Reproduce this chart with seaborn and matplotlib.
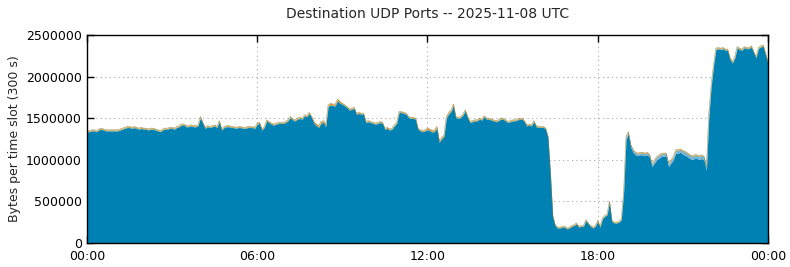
import numpy as np
import pandas as pd
import matplotlib
matplotlib.use("Agg")
import matplotlib.pyplot as plt
import seaborn as sns

# Total bytes per 300 s slot (millions), 00:00 .. 24:00
total_m = [
    # 00h
    1.35, 1.35, 1.36, 1.36, 1.35, 1.37, 1.38, 1.37, 1.36, 1.36, 1.36, 1.36,
    # 01h
    1.36, 1.36, 1.37, 1.38, 1.39, 1.40, 1.40, 1.39, 1.40, 1.39, 1.38, 1.39,
    # 02h
    1.38, 1.38, 1.37, 1.38, 1.38, 1.37, 1.36, 1.35, 1.37, 1.38, 1.38, 1.39,
    # 03h
    1.39, 1.38, 1.40, 1.41, 1.43, 1.43, 1.41, 1.41, 1.42, 1.41, 1.41, 1.42,
    # 04h
    1.52, 1.45, 1.39, 1.41, 1.40, 1.41, 1.42, 1.40, 1.47, 1.37, 1.40, 1.41,
    # 05h
    1.41, 1.40, 1.40, 1.39, 1.40, 1.40, 1.39, 1.39, 1.40, 1.40, 1.40, 1.39,
    # 06h
    1.44, 1.45, 1.37, 1.40, 1.48, 1.46, 1.44, 1.43, 1.44, 1.45, 1.45, 1.45,
    # 07h
    1.46, 1.48, 1.52, 1.49, 1.48, 1.50, 1.51, 1.50, 1.54, 1.53, 1.57, 1.52,
    # 08h
    1.46, 1.43, 1.41, 1.46, 1.47, 1.42, 1.66, 1.68, 1.67, 1.67, 1.73, 1.70,
    # 09h
    1.68, 1.66, 1.64, 1.61, 1.62, 1.63, 1.56, 1.57, 1.56, 1.56, 1.46, 1.47,
    # 10h
    1.46, 1.45, 1.44, 1.45, 1.46, 1.45, 1.38, 1.39, 1.37, 1.38, 1.42, 1.45,
    # 11h
    1.58, 1.58, 1.57, 1.56, 1.52, 1.51, 1.51, 1.50, 1.38, 1.36, 1.35, 1.36,
    # 12h
    1.38, 1.37, 1.35, 1.36, 1.40, 1.23, 1.27, 1.30, 1.52, 1.57, 1.60, 1.67,
    # 13h
    1.52, 1.51, 1.52, 1.55, 1.60, 1.52, 1.46, 1.47, 1.48, 1.48, 1.50, 1.49,
    # 14h
    1.53, 1.50, 1.50, 1.49, 1.48, 1.47, 1.48, 1.50, 1.50, 1.48, 1.46, 1.47,
    # 15h
    1.48, 1.48, 1.49, 1.50, 1.50, 1.47, 1.42, 1.43, 1.42, 1.47, 1.41, 1.40,
    # 16h
    1.40, 1.40, 1.38, 1.28, 0.85, 0.33, 0.22, 0.19, 0.19, 0.20, 0.20, 0.18,
    # 17h
    0.19, 0.21, 0.22, 0.24, 0.20, 0.21, 0.21, 0.28, 0.24, 0.21, 0.19, 0.21,
    # 18h
    0.27, 0.20, 0.30, 0.33, 0.35, 0.50, 0.27, 0.25, 0.25, 0.26, 0.29, 0.62,
    # 19h
    1.28, 1.34, 1.18, 1.12, 1.09, 1.08, 1.09, 1.09, 1.08, 1.09, 1.06, 0.95,
    # 20h
    1.00, 1.04, 1.06, 1.08, 1.08, 1.08, 0.96, 1.00, 1.04, 1.12, 1.12, 1.13,
    # 21h
    1.11, 1.10, 1.08, 1.06, 1.05, 1.06, 1.06, 1.05, 1.06, 1.04, 0.92, 1.55,
    # 22h
    1.90, 2.14, 2.34, 2.35, 2.34, 2.35, 2.33, 2.33, 2.22, 2.18, 2.24, 2.36,
    # 23h
    2.34, 2.33, 2.36, 2.35, 2.35, 2.37, 2.30, 2.24, 2.35, 2.37, 2.38, 2.28,
    # 24:00
    2.18,
]

# Small upper layers, hourly estimates (thousands of bytes)
lightblue_k_hourly = [3, 3, 3, 3, 3, 3, 3, 3, 3, 3, 3, 3,
                      3, 3, 3, 3, 2, 2, 2, 20, 30, 35, 6, 4]
green_k_hourly = [4, 4, 4, 4, 4, 4, 4, 4, 4, 4, 4, 4,
                  4, 4, 4, 4, 3, 3, 3, 4, 4, 4, 4, 4]
orange_k_hourly = [6, 6, 6, 6, 6, 6, 6, 6, 14, 6, 6, 6,
                   12, 6, 6, 6, 5, 5, 5, 6, 6, 6, 6, 6]

x_ticks = [0, 6, 12, 18, 24]
x_labels = ["00:00", "06:00", "12:00", "18:00", "00:00"]
y_ticks = [0, 500000, 1000000, 1500000, 2000000, 2500000]

hours = np.arange(len(total_m)) * 5 / 60.0
total = np.array(total_m) * 1e6
lb = np.append(np.repeat(lightblue_k_hourly, 12), lightblue_k_hourly[-1]) * 1e3
gr = np.append(np.repeat(green_k_hourly, 12), green_k_hourly[-1]) * 1e3
orv = np.append(np.repeat(orange_k_hourly, 12), orange_k_hourly[-1]) * 1e3
base = total - lb - gr - orv

df = pd.DataFrame({"hour": hours, "total": total})

sns.set_style("ticks")
plt.rcParams["font.family"] = ["DejaVu Sans"]

fig = plt.figure(figsize=(7.9, 2.67), dpi=100)
ax = fig.add_axes([0.110, 0.090, 0.862, 0.779])

ax.stackplot(hours, base, lb, gr, orv,
             colors=["#0081b3", "#74b4d9", "#4f9a3a", "#d9861c"],
             linewidth=0, zorder=2)
sns.lineplot(data=df, x="hour", y="total", ax=ax, color="#8a7a30",
             linewidth=0.4, alpha=0.8, zorder=3)

ax.set_xlim(0, 24)
ax.set_ylim(0, 2500000)
ax.set_xticks(x_ticks)
ax.set_xticklabels(x_labels)
ax.set_yticks(y_ticks)
ax.set_yticklabels([str(v) for v in y_ticks])
ax.set_xlabel("")
ax.set_ylabel("Bytes per time slot (300 s)", fontsize=9)
ax.set_title("Destination UDP Ports -- 2025-11-08 UTC", fontsize=10, pad=12)
ax.tick_params(axis="both", direction="in", labelsize=9, length=5, width=1,
               top=True, right=True, colors="black")
ax.tick_params(axis="x", pad=5)
ax.grid(True, linestyle=(0, (1, 3)), color="#a8a8a8", linewidth=0.8, zorder=1)
ax.set_axisbelow(True)
for s in ax.spines.values():
    s.set_linewidth(1.0)
    s.set_color("black")
    s.set_zorder(5)

fig.savefig("out.png", dpi=100)
